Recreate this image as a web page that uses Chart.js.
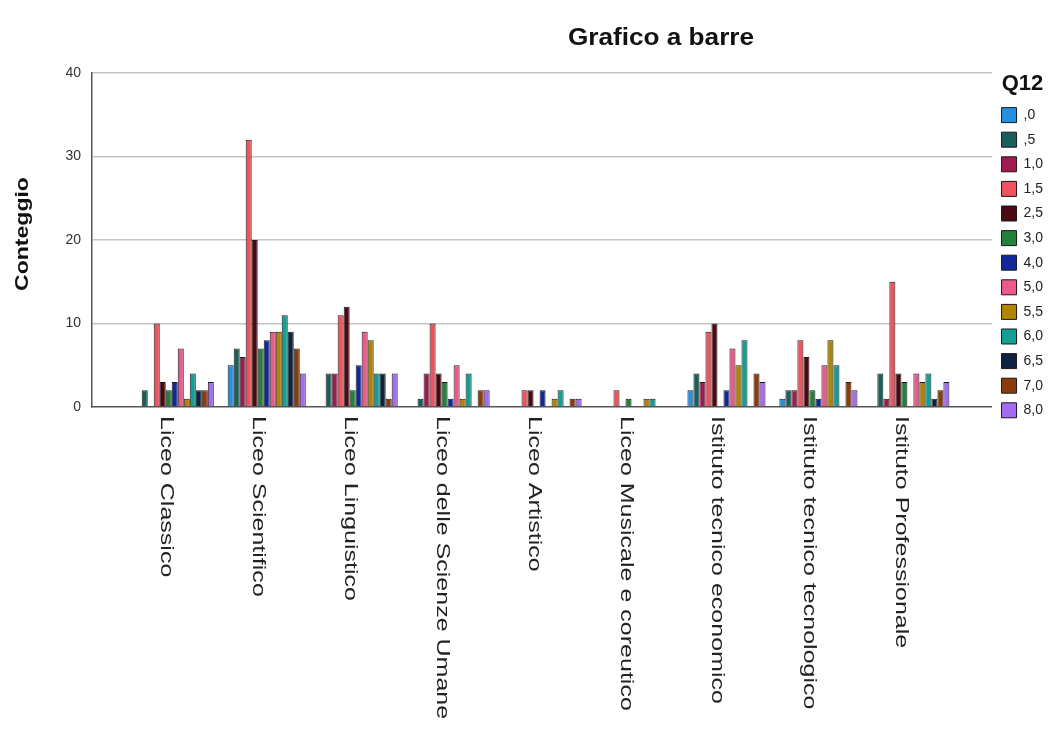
<!DOCTYPE html>
<html>
<head>
<meta charset="utf-8">
<script src="https://cdn.jsdelivr.net/npm/chart.js@4.4.0/dist/chart.umd.min.js"></script>
<style>
  html, body { margin: 0; padding: 0; background: #fff; }
</style>
</head>
<body>
<canvas id="chart" width="1056" height="729"></canvas>
<script>
// tipi di scuola (asse x)
const categories = [
  'Liceo Classico', 'Liceo Scientifico', 'Liceo Linguistico', 'Liceo delle Scienze Umane',
  'Liceo Artistico', 'Liceo Musicale e coreutico', 'Istituto tecnico economico',
  'Istituto tecnico tecnologico', 'Istituto Professionale'
];

// valori di Q12 (legenda)
const seriesLabels = [',0', ',5', '1,0', '1,5', '2,5', '3,0', '4,0', '5,0', '5,5', '6,0', '6,5', '7,0', '8,0'];

// conteggi per ogni scuola, nell'ordine di seriesLabels
const liceoClassico     = [0, 2, 0, 10, 3, 2, 3, 7, 1, 4, 2, 2, 3];
const liceoScientifico  = [5, 7, 6, 32, 20, 7, 8, 9, 9, 11, 9, 7, 4];
const liceoLinguistico  = [0, 4, 4, 11, 12, 2, 5, 9, 8, 4, 4, 1, 4];
const liceoScienzeUmane = [0, 1, 4, 10, 4, 3, 1, 5, 1, 4, 0, 2, 2];
const liceoArtistico    = [0, 0, 0, 2, 2, 0, 2, 0, 1, 2, 0, 1, 1];
const liceoMusicale     = [0, 0, 0, 2, 0, 1, 0, 0, 1, 1, 0, 0, 0];
const tecnicoEconomico  = [2, 4, 3, 9, 10, 0, 2, 7, 5, 8, 0, 4, 3];
const tecnicoTecnologico = [1, 2, 2, 8, 6, 2, 1, 5, 8, 5, 0, 3, 2];
const professionale     = [0, 4, 1, 15, 4, 3, 0, 4, 3, 4, 1, 2, 3];

const yTicks = [0, 10, 20, 30, 40];

const seriesColors = [
  '#2590e0', '#1b5f5b', '#a01c50', '#f0525e', '#4a0a12', '#23813a', '#10289a',
  '#ec5a8c', '#b28400', '#12a096', '#0d2340', '#8c3c0c', '#a46cf2'
];

const FONT = '"Liberation Sans", Arial, sans-serif';
const rows = [liceoClassico, liceoScientifico, liceoLinguistico, liceoScienzeUmane,
  liceoArtistico, liceoMusicale, tecnicoEconomico, tecnicoTecnologico, professionale];

const datasets = seriesLabels.map((lab, s) => ({
  label: lab,
  data: rows.map(r => r[s]),
  backgroundColor: seriesColors[s],
  borderColor: '#1a1a1a',
  borderWidth: 1
}));

// testi disegnati a mano: titolo, titolo asse y, etichette x ruotate in giù
const textPlugin = {
  id: 'texts',
  afterDraw(chart) {
    const ctx = chart.ctx;
    const xs = chart.scales.x;
    ctx.save();
    ctx.fillStyle = '#111';
    ctx.textAlign = 'center';
    ctx.textBaseline = 'alphabetic';
    ctx.font = 'bold 24px ' + FONT;
    ctx.save();
    ctx.translate(661, 45);
    ctx.scale(1.09, 1);
    ctx.fillText('Grafico a barre', 0, 0);
    ctx.restore();

    ctx.font = 'bold 18px ' + FONT;
    ctx.save();
    ctx.translate(28, 234);
    ctx.rotate(-Math.PI / 2);
    ctx.scale(1.28, 1);
    ctx.fillText('Conteggio', 0, 0);
    ctx.restore();

    ctx.fillStyle = '#222';
    ctx.textAlign = 'left';
    ctx.font = '18px ' + FONT;
    categories.forEach((c, i) => {
      const px = xs.getPixelForValue(i);
      ctx.save();
      ctx.translate(px - 14, 416);
      ctx.rotate(Math.PI / 2);
      ctx.scale(1.39, 1);
      ctx.fillText(c, 0, 0);
      ctx.restore();
    });
    ctx.restore();
  }
};

new Chart(document.getElementById('chart'), {
  type: 'bar',
  data: { labels: categories.map((_, i) => i), datasets },
  options: {
    responsive: false,
    animation: false,
    layout: { padding: { top: 73, right: 3, bottom: 0, left: 0 } },
    datasets: { bar: { categoryPercentage: 0.849, barPercentage: 1 } },
    plugins: {
      title: { display: false },
      tooltip: { enabled: false },
      legend: {
        position: 'right',
        align: 'start',
        title: {
          display: true, text: 'Q12', color: '#111',
          font: { size: 22, weight: 'bold', family: FONT, lineHeight: 0.5 },
          padding: { top: 0, bottom: 14 }
        },
        labels: {
          boxWidth: 15, boxHeight: 15, padding: 9.6, color: '#222',
          font: { size: 14, family: FONT }
        }
      }
    },
    scales: {
      x: {
        type: 'linear',
        offset: false,
        min: -0.9,
        max: 8.887,
        afterBuildTicks: s => { s.ticks = categories.map((_, i) => ({ value: i })); },
        afterFit: s => { s.height = 322; },
        ticks: { display: false },
        grid: { display: false },
        border: { color: '#555', width: 1.5 }
      },
      y: {
        min: 0,
        max: 40,
        afterBuildTicks: s => { s.ticks = yTicks.map(v => ({ value: v })); },
        afterFit: s => { s.width = 92; },
        ticks: { color: '#333', padding: 11, font: { size: 14, family: FONT } },
        grid: {
          color: c => (c.tick && c.tick.value === 0 ? 'rgba(0,0,0,0)' : '#c4c4c4'),
          lineWidth: 1.5,
          drawTicks: false
        },
        border: { color: '#555', width: 1.5 }
      }
    }
  },
  plugins: [textPlugin]
});
</script>
</body>
</html>
